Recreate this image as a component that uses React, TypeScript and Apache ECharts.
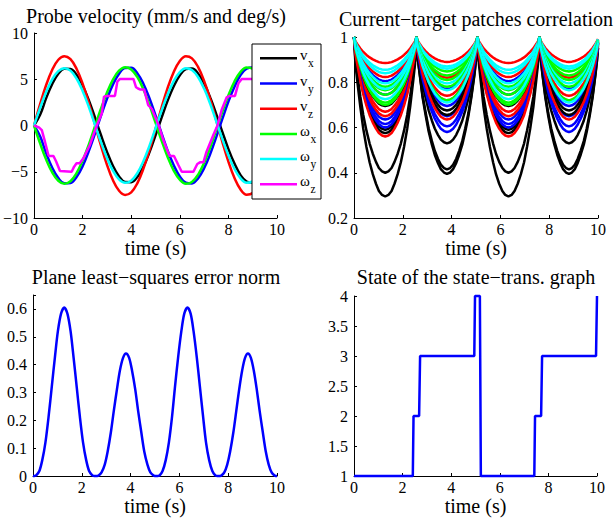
import React, { useEffect, useRef } from 'react';
import * as echarts from 'echarts';

const FONT = "'Liberation Serif', 'Times New Roman', Times, serif";

// ---------- Panel 1: probe velocity ----------
const velTimes = [0, 0.25, 0.5, 0.75, 1, 1.25, 1.5, 1.75, 2, 2.25, 2.5, 2.75, 3, 3.25, 3.5, 3.75, 4, 4.25, 4.5, 4.75, 5, 5.25, 5.5, 5.75, 6, 6.25, 6.5, 6.75, 7, 7.25, 7.5, 7.75, 8, 8.25, 8.5, 8.75, 9, 9.25, 9.5, 9.75, 10];
const vx = [0, 1.15, 2.96, 4.49, 5.59, 6.14, 6.11, 5.48, 4.33, 2.76, 0.92, -1.0, -2.82, -4.38, -5.51, -6.12, -6.13, -5.56, -4.45, -2.9, -1.07, 0.85, 2.69, 4.24, 5.43, 6.09, 6.16, 5.63, 4.55, 3.03, 1.23, -0.69, -2.55, -4.12, -5.37, -6.06, -6.17, -5.71, -4.66, -3.17, -1.38];
const vy = [0, -1.17, -3.01, -4.56, -5.68, -6.24, -6.21, -5.57, -4.4, -2.8, -0.94, 1.01, 2.87, 4.45, 5.6, 6.22, 6.23, 5.65, 4.52, 2.95, 1.09, -0.86, -2.73, -4.3, -5.52, -6.19, -6.26, -5.72, -4.62, -3.08, -1.25, 0.71, 2.59, 4.19, 5.46, 6.16, 6.27, 5.8, 4.73, 3.22, 1.4];
const vz = [0, 2.3, 4.38, 6.03, 7.11, 7.5, 7.17, 6.14, 4.52, 2.48, 0.19, -2.12, -4.22, -5.92, -7.05, -7.5, -7.22, -6.25, -4.68, -2.66, -0.37, 1.94, 4.06, 5.79, 6.98, 7.49, 7.26, 6.34, 4.82, 2.84, 0.56, -1.76, -3.9, -5.67, -6.91, -7.48, -7.3, -6.44, -4.96, -3.01, -0.75];
const wx = [0, -1.93, -3.68, -5.07, -5.97, -6.3, -6.02, -5.16, -3.8, -2.09, -0.16, 1.78, 3.54, 4.97, 5.92, 6.3, 6.06, 5.25, 3.93, 2.24, 0.31, -1.63, -3.41, -4.87, -5.86, -6.29, -6.1, -5.33, -4.05, -2.39, -0.47, 1.48, 3.27, 4.76, 5.8, 6.28, 6.13, 5.41, 4.17, 2.53, 0.63];
const wy = [0, 1.9, 3.62, 4.99, 5.88, 6.2, 5.93, 5.08, 3.74, 2.05, 0.15, -1.76, -3.49, -4.89, -5.83, -6.2, -5.97, -5.16, -3.87, -2.2, -0.31, 1.61, 3.36, 4.79, 5.77, 6.19, 6.0, 5.24, 3.99, 2.35, 0.46, -1.45, -3.22, -4.68, -5.71, -6.18, -6.04, -5.32, -4.1, -2.49, -0.62];
const wzTimes = [0, 0.2, 0.32, 0.45, 0.59, 0.63, 0.8, 0.91, 1.07, 1.55, 1.65, 1.75, 1.88, 2.03, 2.3, 2.58, 2.79, 2.88, 2.99, 3.33, 3.43, 3.54, 4.09, 4.2, 4.28, 4.36, 4.53, 4.7, 4.85, 5.13, 5.32, 5.53, 5.6, 5.76, 5.94, 6.08, 6.56, 6.72, 6.83, 6.97, 7.1, 7.38, 7.55, 7.72, 7.93, 8.05, 8.27, 8.41, 8.55, 9.1, 9.25, 9.4, 9.6, 9.8, 10];
const wz = [0, -0.2, -0.5, -1.75, -3.19, -3.3, -3.3, -3.9, -4.92, -5.0, -4.45, -4.09, -4.09, -3.55, -2.1, 0, 1.32, 3.12, 3.19, 3.2, 4.74, 5.03, 5.03, 4.13, 4.0, 3.9, 3.9, 2.2, 1.8, 0, -1.57, -3.0, -3.3, -3.3, -4.27, -5.0, -5.0, -4.16, -3.98, -3.98, -2.83, -1.03, 0, 1.68, 3.05, 3.2, 3.2, 4.56, 5.03, 5.03, 4.2, 3.9, 2.2, 1.5, 0.3];

const velNames = ['vx', 'vy', 'vz', 'ωx', 'ωy', 'ωz'];
const velSymbols = ['v', 'v', 'v', 'ω', 'ω', 'ω'];
const velSubs = ['x', 'y', 'z', 'x', 'y', 'z'];
const velColors = ['#000000', '#0000ff', '#ff0000', '#00ff00', '#00ffff', '#ff00ff'];

// ---------- Panel 2: correlation ----------
const corrTimes = [
  0, 0.06, 0.13, 0.26, 0.38, 0.51, 0.64, 0.77, 0.9, 1.02, 1.15, 1.28, 1.41, 1.54, 1.66, 1.79, 1.92, 2.05, 2.18, 2.3, 2.43, 2.5,
  2.56, 2.62, 2.69, 2.81, 2.94, 3.06, 3.19, 3.31, 3.44, 3.56, 3.69, 3.81, 3.94, 4.06, 4.19, 4.31, 4.44, 4.56, 4.69, 4.81, 4.94, 5.0,
  5.06, 5.12, 5.19, 5.31, 5.44, 5.57, 5.7, 5.82, 5.95, 6.08, 6.2, 6.33, 6.46, 6.58, 6.71, 6.84, 6.97, 7.09, 7.22, 7.35, 7.47, 7.54,
  7.6, 7.66, 7.72, 7.84, 7.96, 8.08, 8.21, 8.33, 8.45, 8.57, 8.69, 8.81, 8.93, 9.05, 9.17, 9.29, 9.42, 9.54, 9.66, 9.78, 9.9, 9.96,
  10,
];
// fraction of each curve's dip reached at each time (0 = peak at 1, 1 = bottom of the dip)
const corrShape = [
  0, 0.17, 0.27, 0.44, 0.575, 0.69, 0.785, 0.86, 0.92, 0.965, 0.99, 1, 0.99, 0.965, 0.92, 0.86, 0.785, 0.69, 0.575, 0.44, 0.27, 0.17,
  0, 0.17, 0.27, 0.44, 0.575, 0.69, 0.785, 0.86, 0.92, 0.965, 0.99, 1, 0.99, 0.965, 0.92, 0.86, 0.785, 0.69, 0.575, 0.44, 0.27, 0.17,
  0, 0.17, 0.27, 0.44, 0.575, 0.69, 0.785, 0.86, 0.92, 0.965, 0.99, 1, 0.99, 0.965, 0.92, 0.86, 0.785, 0.69, 0.575, 0.44, 0.27, 0.17,
  0, 0.17, 0.27, 0.44, 0.575, 0.69, 0.785, 0.86, 0.92, 0.965, 0.99, 1, 0.99, 0.965, 0.92, 0.86, 0.785, 0.69, 0.575, 0.44, 0.27, 0.17,
  0.08,
];
const corrColors = ['#000000', '#0000ff', '#ff0000', '#00ff00', '#00ffff'];
// minimum of each curve in dips 1 and 3
const corrMinOdd = [
  0.295, 0.805, 0.885, 0.78, 0.855,
  0.40, 0.745, 0.823, 0.765, 0.84,
  0.575, 0.635, 0.67, 0.71, 0.795,
  0.59, 0.615, 0.65, 0.745, 0.77,
  0.695, 0.60, 0.56, 0.70, 0.725,
];
// minimum of each curve in dips 2 and 4
const corrMinEven = [
  0.395, 0.77, 0.89, 0.848, 0.87,
  0.415, 0.695, 0.82, 0.83, 0.86,
  0.53, 0.65, 0.74, 0.81, 0.795,
  0.655, 0.605, 0.72, 0.78, 0.765,
  0.675, 0.58, 0.635, 0.72, 0.71,
];

// ---------- Panel 3: plane error norm ----------
const errValues = [
  0, 0.0003, 0.0024, 0.018, 0.057, 0.121, 0.214, 0.321, 0.428, 0.52, 0.583, 0.605, 0.583, 0.52, 0.428, 0.321, 0.214, 0.121, 0.057, 0.018, 0.0024, 0.0003,
  0, 0.0002, 0.0018, 0.013, 0.041, 0.088, 0.156, 0.233, 0.311, 0.378, 0.424, 0.44, 0.424, 0.378, 0.311, 0.233, 0.156, 0.088, 0.041, 0.013, 0.0018, 0.0002,
  0, 0.0003, 0.0024, 0.018, 0.057, 0.121, 0.214, 0.321, 0.428, 0.52, 0.583, 0.605, 0.583, 0.52, 0.428, 0.321, 0.214, 0.121, 0.057, 0.018, 0.0024, 0.0003,
  0, 0.0002, 0.0018, 0.013, 0.041, 0.088, 0.156, 0.233, 0.311, 0.378, 0.424, 0.44, 0.424, 0.378, 0.311, 0.233, 0.156, 0.088, 0.041, 0.013, 0.0018, 0.0002,
  0,
];

// ---------- Panel 4: state ----------
const stateTimes = [0, 2.42, 2.45, 2.68, 2.72, 4.95, 4.98, 5.18, 5.22, 7.42, 7.45, 7.7, 7.74, 9.96, 10];
const stateValues = [1, 1, 2, 2, 3, 3, 4, 4, 1, 1, 2, 2, 3, 3, 4];

const titles = [
  'Probe velocity (mm/s and deg/s)',
  'Current\u2212target patches correlation',
  'Plane least\u2212squares error norm',
  'State of the state\u2212trans. graph',
];
const xName = 'time (s)';

const LW = 2.5;

function xAxisCfg(gridIndex: number, nameGap: number) {
  return {
    type: 'value',
    gridIndex,
    min: 0,
    max: 10,
    interval: 2,
    name: xName,
    nameLocation: 'middle',
    nameGap,
    nameTextStyle: { fontFamily: FONT, fontSize: 20, color: '#000' },
    axisLine: { onZero: false, lineStyle: { color: '#000', width: 1 } },
    axisTick: { inside: true, length: 3, lineStyle: { color: '#000', width: 1 } },
    axisLabel: { fontFamily: FONT, fontSize: 16, color: '#000', margin: 3 },
    splitLine: { show: false },
  };
}

function yAxisCfg(gridIndex: number, min: number, max: number, interval: number, formatter?: any) {
  return {
    type: 'value',
    gridIndex,
    min,
    max,
    interval,
    axisLine: { onZero: false, lineStyle: { color: '#000', width: 1 } },
    axisTick: { inside: true, length: 3, lineStyle: { color: '#000', width: 1 } },
    axisLabel: { fontFamily: FONT, fontSize: 16, color: '#000', margin: 6, formatter },
    splitLine: { show: false },
  };
}

export default function App() {
  const ref = useRef<HTMLDivElement>(null);
  useEffect(() => {
    if (!ref.current) return;
    const chart = echarts.init(ref.current, undefined, { renderer: 'svg' });

    const velData = [vx, vy, vz, wx, wy];
    const series: any[] = [];
    velData.forEach((arr, k) => {
      series.push({
        name: velNames[k],
        type: 'line',
        xAxisIndex: 0,
        yAxisIndex: 0,
        data: velTimes.map((t, i) => [t, arr[i]]),
        smooth: 0.4,
        symbol: 'none',
        lineStyle: { color: velColors[k], width: LW },
        itemStyle: { color: velColors[k] },
      });
    });
    series.push({
      name: velNames[5],
      type: 'line',
      xAxisIndex: 0,
      yAxisIndex: 0,
      data: wzTimes.map((t, i) => [t, wz[i]]),
      symbol: 'none',
      lineStyle: { color: velColors[5], width: LW },
      itemStyle: { color: velColors[5] },
    });

    corrMinOdd.forEach((mOdd, c) => {
      const mEven = corrMinEven[c];
      const col = corrColors[c % corrColors.length];
      series.push({
        name: 'corr' + c,
        type: 'line',
        xAxisIndex: 1,
        yAxisIndex: 1,
        clip: false,
        data: corrTimes.map((t, i) => {
          const hump = Math.min(3, Math.floor(i / 22));
          const m = hump % 2 === 0 ? mOdd : mEven;
          return [t, 1 - (1 - m) * corrShape[i]];
        }),
        symbol: 'none',
        lineStyle: { color: col, width: LW },
        itemStyle: { color: col },
      });
    });

    series.push({
      name: 'error',
      type: 'line',
      xAxisIndex: 2,
      yAxisIndex: 2,
      clip: false,
      data: corrTimes.map((t, i) => [t, errValues[i]]),
      smooth: 0.3,
      symbol: 'none',
      lineStyle: { color: '#0000ff', width: LW },
      itemStyle: { color: '#0000ff' },
    });

    series.push({
      name: 'state',
      type: 'line',
      xAxisIndex: 3,
      yAxisIndex: 3,
      clip: false,
      data: stateTimes.map((t, i) => [t, stateValues[i]]),
      symbol: 'none',
      lineStyle: { color: '#0000ff', width: LW },
      itemStyle: { color: '#0000ff' },
    });

    // legend box (top-left panel)
    const lgLeft = 252, lgTop = 44, lgW = 69, lgH = 155, rowStep = 25.2, firstRow = 14.3;
    const legendChildren: any[] = [
      { type: 'rect', z: 100, shape: { x: lgLeft, y: lgTop, width: lgW, height: lgH }, style: { fill: '#fff', stroke: '#000', lineWidth: 1 } },
    ];
    velNames.forEach((_, k) => {
      const cy = lgTop + firstRow + k * rowStep;
      legendChildren.push({ type: 'line', z: 101, shape: { x1: lgLeft + 8, y1: cy, x2: lgLeft + 45, y2: cy }, style: { stroke: velColors[k], lineWidth: LW } });
      const symW = velSymbols[k] === 'v' ? 7.5 : 10;
      legendChildren.push({ type: 'text', z: 101, x: lgLeft + 48, y: cy - 3, style: { text: velSymbols[k], fontFamily: FONT, fontSize: 15, fill: '#000', align: 'left', verticalAlign: 'middle' } });
      legendChildren.push({ type: 'text', z: 101, x: lgLeft + 48 + symW + 0.5, y: cy + 5, style: { text: velSubs[k], fontFamily: FONT, fontSize: 11.5, fill: '#000', align: 'left', verticalAlign: 'middle' } });
    });

    // panel titles
    const titlePos = [
      [156, 15.5],
      [476, 18.5],
      [156, 276.5],
      [476, 276.5],
    ];
    const titleEls = titles.map((t, k) => ({
      type: 'text',
      z: 50,
      x: titlePos[k][0],
      y: titlePos[k][1],
      style: { text: t, fontFamily: FONT, fontSize: 20, fill: '#000', align: 'center', verticalAlign: 'middle' },
    }));

    chart.setOption({
      animation: false,
      backgroundColor: '#fff',
      grid: [
        { left: 34, top: 33, width: 243, height: 185 },
        { left: 354, top: 37, width: 244, height: 181 },
        { left: 33, top: 295, width: 244, height: 181 },
        { left: 354, top: 296, width: 243, height: 180 },
      ],
      xAxis: [xAxisCfg(0, 16), xAxisCfg(1, 16), xAxisCfg(2, 20), xAxisCfg(3, 20)],
      yAxis: [
        yAxisCfg(0, -10, 10, 5, (v: number) => String(v).replace('-', '\u2212')),
        yAxisCfg(1, 0.2, 1, 0.2),
        yAxisCfg(2, 0, 0.65, 0.1, (v: number) => (v > 0.61 ? '' : String(v))),
        yAxisCfg(3, 1, 4, 0.5),
      ],
      series,
      graphic: [...titleEls, { type: 'group', z: 100, children: legendChildren }],
    });
    return () => chart.dispose();
  }, []);
  return <div ref={ref} style={{ position: 'fixed', left: 0, top: 0, width: 615, height: 518, background: '#fff' }} />;
}
